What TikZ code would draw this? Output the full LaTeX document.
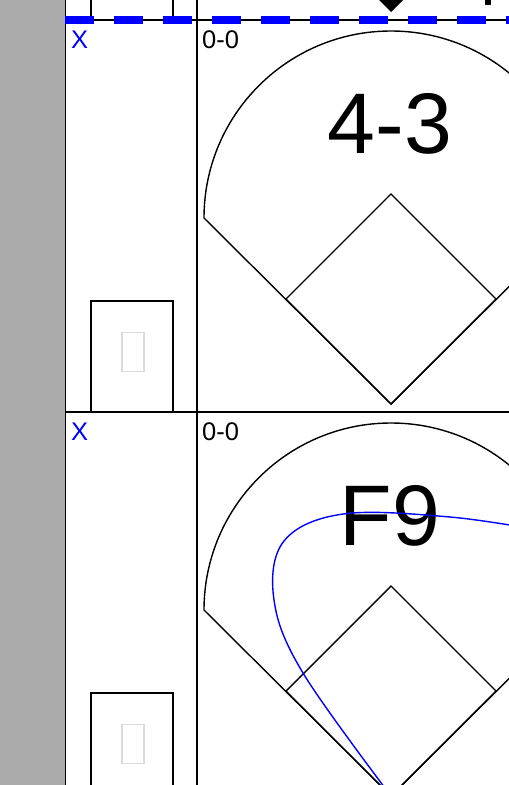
\documentclass[tikz,border=0pt]{standalone}
\usepackage{fontspec}
\setmainfont{Liberation Sans}
\usepackage{tikz}
\usetikzlibrary{positioning}
\definecolor{SideGray}{RGB}{170,170,170}
\definecolor{TofuGray}{RGB}{218,218,218}

\begin{document}
\begin{tikzpicture}[x=1pt,y=-1pt,
        grid/.style={line width=1.5pt,black},
        field/.style={line width=1.4pt,black},
        hit/.style={line width=1.4pt,blue},
        tally/.style={font=\fontsize{25.5}{25.5}\selectfont,anchor=base west,inner sep=0pt},
        outx/.style={tally,text=blue},
        play/.style={font=\fontsize{86}{86}\selectfont,inner sep=0pt},
        tofu/.style={draw=TofuGray,line width=1.5pt,minimum width=22pt,
                     minimum height=39pt,inner sep=0pt}
      ]
        \useasboundingbox (0,0) rectangle (509,785);
        \clip (0,0) rectangle (509,785);
        \fill[SideGray] (0,0) rectangle (65,785);
        \draw[line width=1pt] (65,0) -- (65,785);
        \draw[grid] (197,0) -- (197,785);
        % what is left of the cell above
        \draw[field] (91,0) -- (91,20) (173,0) -- (173,20);
        \fill (391,-198) -- (496,-93) -- (391,12) -- (286,-93) -- cycle;
        \fill (485,0) rectangle (491,5);
        \draw[grid] (65,20) -- (509,20);
        \draw[blue,line width=8.5pt,dash pattern=on 29pt off 20pt] (65,20) -- (509,20);
        \foreach \T/\res in {20/4-3,412/F9}{
          \coordinate (L\T) at (204,\T+198);
          \coordinate (H\T) at (391,\T+384);
          \coordinate (B1\T) at (496,\T+279);
          \coordinate (B2\T) at (391,\T+174);
          \coordinate (B3\T) at (286,\T+279);
          \node[outx] (X\T) at (71,\T+28) {X};
          \node[tally] (C\T) at (202,\T+28) {0-0};
          \node[play] (R\T) at (390,\T+104) {\res};
          \node[tofu] (G\T) at (133,\T+332) {};
          \draw[field] (91,\T+392) |- (173,\T+281) -- (173,\T+392);
          \draw[field] (H\T) -- (L\T) arc[start angle=180,end angle=360,radius=187] -- cycle;
          \draw[field] (H\T) -- (B3\T) -- (B2\T) -- (B1\T) -- cycle;
          \draw[grid] (65,\T+392) -- (509,\T+392);
        }
        \draw[hit] plot[smooth,tension=0.6] coordinates {(H412) (303,673) (274,600)
          (284,541) (343,514) (450,517) (545,531)};
      \end{tikzpicture}
\end{document}
